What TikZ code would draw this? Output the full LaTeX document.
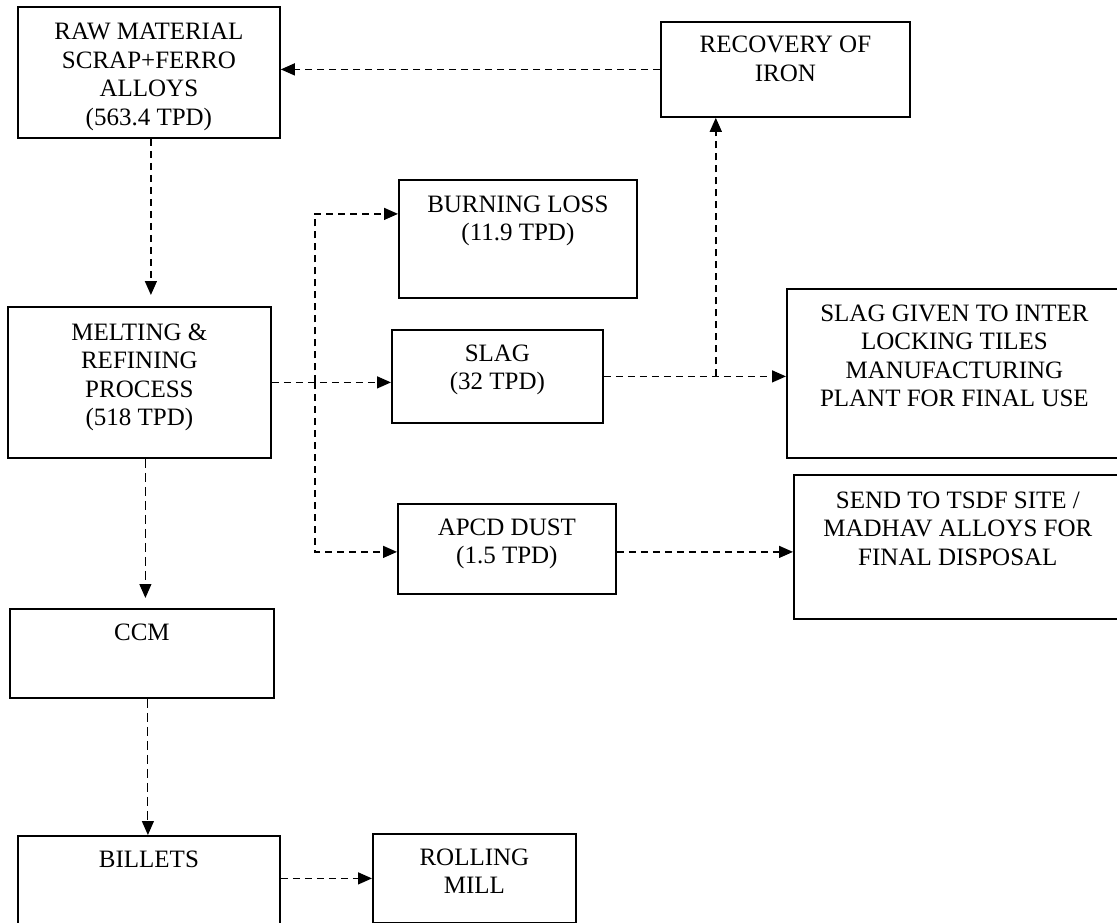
\documentclass[tikz,border=0pt]{standalone}
\usepackage{fontspec}
\setmainfont{Liberation Serif}
\usetikzlibrary{positioning,arrows.meta}

\begin{document}
\begin{tikzpicture}[
  x=1pt, y=-1pt,
  nd/.style={draw, line width=1.8pt, inner sep=0pt, anchor=north west},
  lbl/.style={font=\fontsize{25}{28.5}\selectfont, align=center, inner sep=0pt, anchor=base},
  arr/.style={-{Triangle[length=14pt, width=12pt]}, line width=1.4pt,
    dash pattern=on 7pt off 5pt},
  thinarr/.style={arr, line width=1.1pt, dash pattern=on 9pt off 5pt}
]
\useasboundingbox (0,0) rectangle (1117,923);

% boxes
\node[nd, minimum width=262pt, minimum height=131pt] (raw) at (17,6) {};
\node[nd, minimum width=249pt, minimum height=95pt] (recov) at (660,21) {};
\node[nd, minimum width=238pt, minimum height=118pt] (burn) at (398,179) {};
\node[nd, minimum width=263pt, minimum height=151pt] (melt) at (7,306) {};
\node[nd, minimum width=211pt, minimum height=93pt] (slag) at (391,329) {};
\node[nd, minimum width=335pt, minimum height=169pt] (tiles) at (786,288) {};
\node[nd, minimum width=218pt, minimum height=90pt] (apcd) at (397,503) {};
\node[nd, minimum width=328pt, minimum height=144pt] (tsdf) at (793,474) {};
\node[nd, minimum width=264pt, minimum height=89pt] (ccm) at (9,608) {};
\node[nd, minimum width=262pt, minimum height=91pt] (billet) at (17,835) {};
\node[nd, minimum width=203pt, minimum height=89pt] (roll) at (372,833) {};

% texts, hung from the top of each box (base = last line)
\node[lbl] (rawtx) at ([yshift=-119.5pt]raw.north)
  {RAW MATERIAL\\SCRAP+FERRO\\ALLOYS\\(563.4 TPD)};
\node[lbl] (recovtx) at ([yshift=-60.5pt]recov.north) {RECOVERY OF\\IRON};
\node[lbl] (burntx) at ([yshift=-61.5pt]burn.north) {BURNING LOSS\\(11.9 TPD)};
\node[lbl] (melttx) at ([yshift=-119.5pt]melt.north)
  {MELTING \&\\REFINING\\PROCESS\\(518 TPD)};
\node[lbl] (slagtx) at ([yshift=-60.5pt]slag.north) {SLAG\\(32 TPD)};
\node[lbl] (tilestx) at ([yshift=-118.5pt]tiles.north)
  {SLAG GIVEN TO INTER\\LOCKING TILES\\MANUFACTURING\\PLANT FOR FINAL USE};
\node[lbl] (apcdtx) at ([yshift=-60.5pt]apcd.north) {APCD DUST\\(1.5 TPD)};
\node[lbl] (tsdftx) at ([yshift=-91pt]tsdf.north)
  {SEND TO TSDF SITE /\\MADHAV ALLOYS FOR\\FINAL DISPOSAL};
\node[lbl] (ccmtx) at ([yshift=-32pt]ccm.north) {CCM};
\node[lbl] (billettx) at ([yshift=-32pt]billet.north) {BILLETS};
\node[lbl] (rolltx) at ([yshift=-60.5pt]roll.north) {ROLLING\\MILL};

% junctions
\coordinate (jn) at ([xshift=43pt]melt.east);
\coordinate (sj) at ([xshift=112pt]slag.east);

% flows
\draw[arr, shorten >=11pt] ([xshift=2pt]raw.south) -- ([xshift=2pt]raw.south |- melt.north);
\draw[arr] (recov.west) -- (recov.west -| raw.east);
\draw[arr] (melt.east) -- (melt.east -| slag.west);
\draw[arr] (jn) |- ([yshift=25pt]burn.west);
\draw[arr] (jn) |- ([yshift=-3pt]apcd.west);
\draw[arr] (slag.east) -- (slag.east -| tiles.west);
\draw[arr] (sj) -- (sj |- recov.south);
\draw[arr] ([yshift=-3pt]apcd.east) -- ([yshift=-3pt]apcd.east -| tsdf.west);
\draw[thinarr, shorten >=10pt] ([xshift=6pt]melt.south) -- ([xshift=6pt]melt.south |- ccm.north);
\draw[thinarr] ([xshift=6pt]ccm.south) -- ([xshift=6pt]ccm.south |- billet.north);
\draw[arr] (roll.west -| billet.east) -- (roll.west);
\end{tikzpicture}
\end{document}
